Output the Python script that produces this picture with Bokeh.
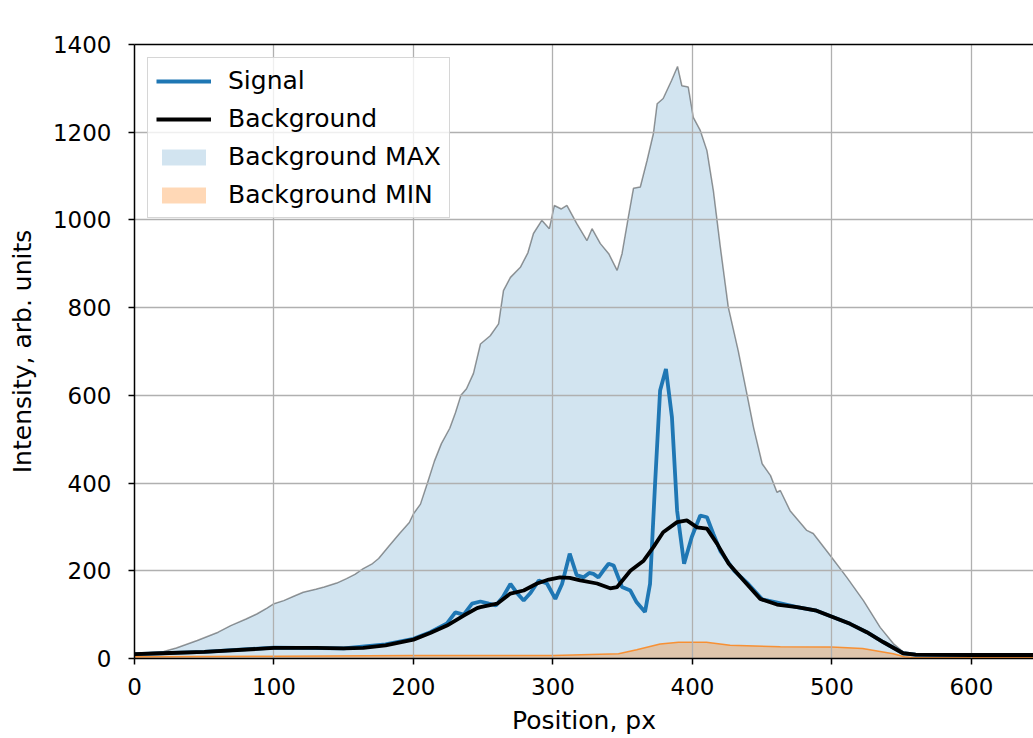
from bokeh.plotting import figure
from bokeh.models import Range1d, LinearAxis, FixedTicker, Legend, LegendItem
from bokeh.embed import file_html
from bokeh.resources import INLINE

# ---------------- data ----------------
x_max = [0, 10, 21, 30, 45, 60, 69, 80, 88, 95, 100, 107, 115, 121, 130, 136, 145, 152, 158, 164,
         170, 175, 182, 190, 197, 200, 205, 210, 215, 220, 226, 230, 234, 238, 243, 248, 255, 261,
         264.5, 269.5, 276.6, 282, 286, 292, 297.4, 301, 306, 310, 317, 324.4, 328, 334, 340, 346,
         349.5, 354, 357.7, 362.6, 367.4, 372, 374.7, 379, 385, 389.3, 392.4, 397, 400.6, 405.6,
         410.4, 415, 420, 425.7, 432.8, 439, 443.8, 450, 456, 460.6, 463, 470, 482, 486.6, 498.8,
         510.7, 522.6, 534.6, 544, 552.5, 560, 580, 600, 620, 645]
bg_max = [10, 13, 16, 24, 41, 60, 75, 90, 102, 115, 125, 132, 143, 151, 158, 163, 172, 182, 192, 205,
          215, 228, 255, 285, 310, 330, 352, 400, 450, 490, 525, 560, 600, 615, 650, 717, 736, 763,
          839, 869, 892, 925, 969, 999, 980, 1033, 1025, 1033, 992, 953, 980, 946, 923, 885,
          923, 1006, 1072, 1075, 1135, 1197, 1265, 1277, 1318, 1350, 1306, 1303, 1234, 1204,
          1158, 1067, 938, 801, 702, 604, 527, 444, 417, 379, 383, 337, 292, 285, 235,
          185, 132, 71, 34, 11, 6, 5, 5, 5, 5]

x_min = [0, 100, 200, 300, 347, 360, 376.8, 390, 410, 427, 463, 500, 522, 544, 552, 560, 645]
bg_min = [4, 5, 7, 7, 11, 20, 33, 37, 37, 30, 27, 26, 23, 11, 4, 2, 2]

x_bg = [0, 20, 50, 100, 130, 150, 164, 180, 200, 212, 224, 236, 245.6, 248, 260, 269.5, 279, 288.6,
        297, 305, 312, 319.6, 331.6, 341, 346, 355.5, 365, 372, 379, 389, 396, 403.3, 410.4, 417.6,
        426, 436.7, 448.6, 460.6, 475, 489, 501, 513, 525, 537, 551, 560, 600, 645]
background = [10, 12, 15, 24, 24, 23, 24, 30, 43, 58, 75, 98, 115, 117, 125, 148, 155, 171,
              180, 185, 184, 178, 171, 160, 163, 200, 223, 254, 288, 311, 315, 299, 296, 262,
              216, 178, 136, 123, 117, 109, 94, 79, 60, 37, 12, 9, 8, 8]

x_sig = [0, 50, 100, 150, 180, 200, 212, 224, 230, 236, 242, 248, 254, 259, 264, 269.5, 274, 279, 284,
         289.8, 295.7, 301.7, 306.5, 312, 317, 322, 326, 329, 332.6, 336, 339.9, 343.5, 349.5, 355.5,
         360, 366, 369.6, 373.2, 376.8, 381, 385.3, 389, 394, 399.5, 405.6, 410.4, 415, 420, 430,
         440, 450, 460, 475, 489, 501, 513, 525, 537, 551, 560, 600, 645]
signal = [10, 15, 25, 23, 32, 45, 60, 80, 105, 100, 125, 130, 125, 121, 140, 170, 150, 132, 150,
          178, 171, 136, 170, 239, 190, 185, 195, 193, 185, 200, 216, 212, 163, 155,
          128, 106, 170, 398, 611, 660, 550, 337, 216, 277, 326, 322, 284, 245, 200,
          170, 135, 128, 117, 109, 94, 79, 60, 37, 12, 9, 8, 8]

x_ticks = [0, 100, 200, 300, 400, 500, 600]
y_ticks = [0, 200, 400, 600, 800, 1000, 1200, 1400]

FONT = "DejaVu Sans"
FS = "23px"
FS_LABEL = "25px"

p = figure(width=1033, height=738, output_backend="svg", toolbar_location=None,
           x_range=Range1d(0, 644.5), y_range=Range1d(0, 1400),
           min_border_left=134, min_border_right=0, min_border_top=44, min_border_bottom=80,
           background_fill_color="white", border_fill_color="white")
p.outline_line_color = None

# fills (drawn below the grid, like matplotlib patches)
r_max = p.varea(x=x_max, y1=[0] * len(x_max), y2=bg_max, fill_color="#1f77b4", fill_alpha=0.2)
r_max.level = "image"
r_max_edge = p.line(x_max, bg_max, line_color="black", line_alpha=0.4, line_width=1.5)
r_max_edge.level = "image"
r_min = p.varea(x=x_min, y1=[0] * len(x_min), y2=bg_min, fill_color="#ff7f0e", fill_alpha=0.3)
r_min.level = "image"
r_min_edge = p.line(x_min, bg_min, line_color="#ff7f0e", line_alpha=0.8, line_width=1.5)
r_min_edge.level = "image"

r_sig = p.line(x_sig, signal, line_color="#1f77b4", line_width=3.8)
r_bg = p.line(x_bg, background, line_color="black", line_width=3.8)

# grid
p.xgrid.ticker = FixedTicker(ticks=x_ticks)
p.ygrid.ticker = FixedTicker(ticks=y_ticks)
p.grid.grid_line_color = "#b0b0b0"
p.grid.grid_line_width = 1.3
p.grid.level = "underlay"

# axes
p.xaxis.ticker = FixedTicker(ticks=x_ticks)
p.yaxis.ticker = FixedTicker(ticks=y_ticks)
p.xaxis.axis_label = "Position, px"
p.yaxis.axis_label = "Intensity, arb. units"
for ax in (p.xaxis[0], p.yaxis[0]):
    ax.major_label_text_font = FONT
    ax.major_label_text_font_size = FS
    ax.major_label_text_color = "black"
    ax.axis_label_text_font = FONT
    ax.axis_label_text_font_size = FS_LABEL
    ax.axis_label_text_font_style = "normal"
    ax.axis_label_text_color = "black"
    ax.minor_tick_line_color = None
    ax.major_tick_out = 6
    ax.major_tick_in = 0
    ax.major_tick_line_width = 1.5
    ax.axis_line_width = 1.5
p.xaxis.major_label_standoff = 13
p.xaxis.axis_label_standoff = 8
p.yaxis.major_label_standoff = 17
p.yaxis.axis_label_standoff = 13

top = LinearAxis(ticker=FixedTicker(ticks=[]), major_tick_line_color=None,
                 minor_tick_line_color=None, major_label_text_font_size="0px",
                 axis_line_width=1.5, axis_line_color="black")
p.add_layout(top, "above")

legend = Legend(items=[
    LegendItem(label="Signal", renderers=[r_sig]),
    LegendItem(label="Background", renderers=[r_bg]),
    LegendItem(label="Background MAX", renderers=[r_max]),
    LegendItem(label="Background MIN", renderers=[r_min]),
], location="top_left", margin=13, padding=8, spacing=9,
    glyph_width=55, glyph_height=20, label_height=20, label_standoff=17,
    label_text_font=FONT, label_text_font_size=FS_LABEL, label_text_color="black",
    border_line_color="#cccccc", border_line_alpha=0.8, border_line_width=1.3,
    background_fill_color="white", background_fill_alpha=0.8)
p.add_layout(legend)

open("out.html", "w").write(file_html(p, INLINE))
